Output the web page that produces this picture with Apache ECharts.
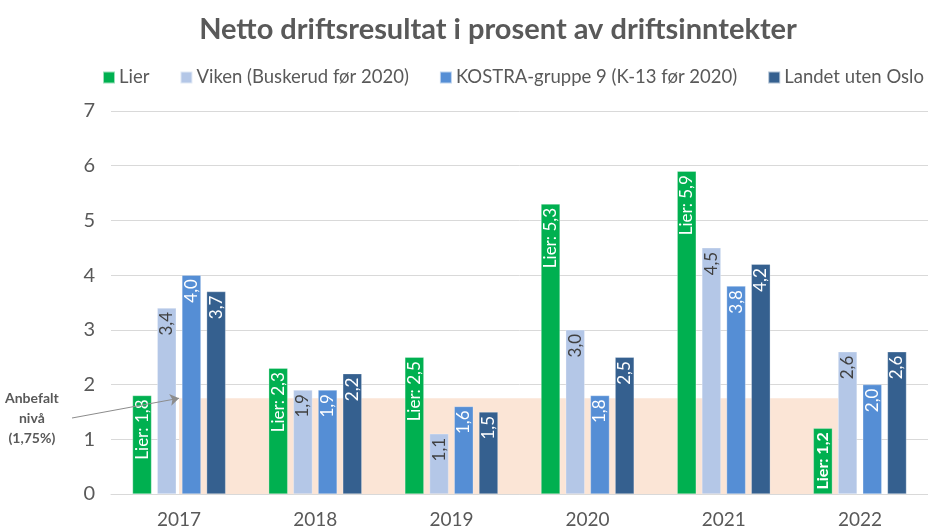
<!DOCTYPE html>
<html>
<head>
<meta charset="utf-8">
<script src="https://cdn.jsdelivr.net/npm/echarts@6/dist/echarts.min.js"></script>
<style>
  html, body { margin: 0; padding: 0; background: #fff; }
  #main { width: 928px; height: 531px; }
</style>
</head>
<body>
<div id="main"></div>
<script>
const years = ['2017', '2018', '2019', '2020', '2021', '2022'];
const lier = [1.8, 2.3, 2.5, 5.3, 5.9, 1.2];
const viken = [3.4, 1.9, 1.1, 3.0, 4.5, 2.6];
const kostra = [4.0, 1.9, 1.6, 1.8, 3.8, 2.0];
const landet = [3.7, 2.2, 1.5, 2.5, 4.2, 2.6];
const yTicks = [0, 1, 2, 3, 4, 5, 6, 7];
// anbefalt nivå, shaded band from 2017 to just before 2022
const level = 1.75;
const shadeX = [0, 4.84];

const FONT = 'Lato';
const fmt = v => v.toFixed(1).replace('.', ',');

function barSeries(name, data, color, textColor, prefix, bold) {
    return {
        name: name,
        type: 'bar',
        data: data,
        barWidth: 19,
        barGap: '30%',
        z: 3,
        itemStyle: { color: color, borderColor: 'rgba(255,255,255,0.6)', borderWidth: 0.5 },
        label: {
            show: true,
            position: 'insideTop',
            rotate: 90,
            align: 'right',
            verticalAlign: 'middle',
            distance: 4,
            fontFamily: FONT,
            fontSize: 17,
            color: textColor,
            formatter: function (p) {
                let txt = prefix + fmt(p.value);
                if (bold && p.dataIndex === 5) return '{b|' + txt + '}';
                return txt;
            },
            rich: { b: { fontWeight: 'bold', fontSize: 16, color: textColor, fontFamily: FONT } }
        }
    };
}

let option = {
    backgroundColor: '#fff',
    textStyle: { fontFamily: FONT },
    title: {
        text: 'Netto driftsresultat i prosent av driftsinntekter',
        left: 493,
        textAlign: 'center',
        top: 10,
        textStyle: { fontFamily: FONT, fontSize: 29, fontWeight: 'bold', color: '#595959' }
    },
    legend: {
        top: 68,
        left: 102,
        width: 826,
        padding: 0,
        itemWidth: 12,
        itemHeight: 12,
        itemGap: 30,
        icon: 'rect',
        textStyle: { fontFamily: FONT, fontSize: 18.5, color: '#595959', padding: [0, 0, 0, -1] },
        data: ['Lier', 'Viken (Buskerud før 2020)', 'KOSTRA-gruppe 9 (K-13 før 2020)', 'Landet uten Oslo']
    },
    grid: { left: 111, right: -6, top: 111, bottom: 37 },
    xAxis: [{
        type: 'category',
        data: years,
        axisTick: { show: false },
        axisLine: { lineStyle: { color: '#D9D9D9', width: 1 } },
        axisLabel: { fontFamily: FONT, fontSize: 19, color: '#595959', margin: 16 }
    }, {
        type: 'value',
        min: -0.5,
        max: 5.5,
        show: false
    }],
    yAxis: {
        type: 'value',
        min: yTicks[0],
        max: yTicks[yTicks.length - 1],
        interval: 1,
        axisLine: { show: false },
        axisTick: { show: false },
        splitLine: { lineStyle: { color: '#D9D9D9', width: 1 } },
        axisLabel: { fontFamily: FONT, fontSize: 20, color: '#595959', margin: 16 }
    },
    graphic: [{
        type: 'text',
        left: 5,
        top: 388,
        style: {
            text: 'Anbefalt\nnivå\n(1,75%)',
            font: 'bold 14px Lato',
            fill: '#595959',
            textAlign: 'center',
            lineHeight: 20,
            x: 33
        }
    }],
    series: [
        {
            name: 'Anbefalt',
            type: 'line',
            xAxisIndex: 1,
            data: shadeX.map(x => [x, level]),
            symbol: 'none',
            lineStyle: { width: 0 },
            areaStyle: { color: '#FBE5D6', opacity: 1 },
            z: 1,
            silent: true,
            markLine: {
                silent: true,
                symbol: ['none', 'arrow'],
                symbolSize: 9,
                lineStyle: { color: '#8C8C8C', width: 1, type: 'solid' },
                label: { show: false },
                data: [[{ x: 72, y: 418 }, { coord: [shadeX[0], level] }]]
            }
        },
        barSeries('Lier', lier, '#00B050', '#FFFFFF', 'Lier: ', true),
        barSeries('Viken (Buskerud før 2020)', viken, '#B4C7E7', '#404040', '', false),
        barSeries('KOSTRA-gruppe 9 (K-13 før 2020)', kostra, '#558ED5', '#FFFFFF', '', false),
        barSeries('Landet uten Oslo', landet, '#35608F', '#FFFFFF', '', false)
    ]
};

let myChart = echarts.init(document.getElementById('main'));
myChart.setOption(option);
</script>
</body>
</html>
